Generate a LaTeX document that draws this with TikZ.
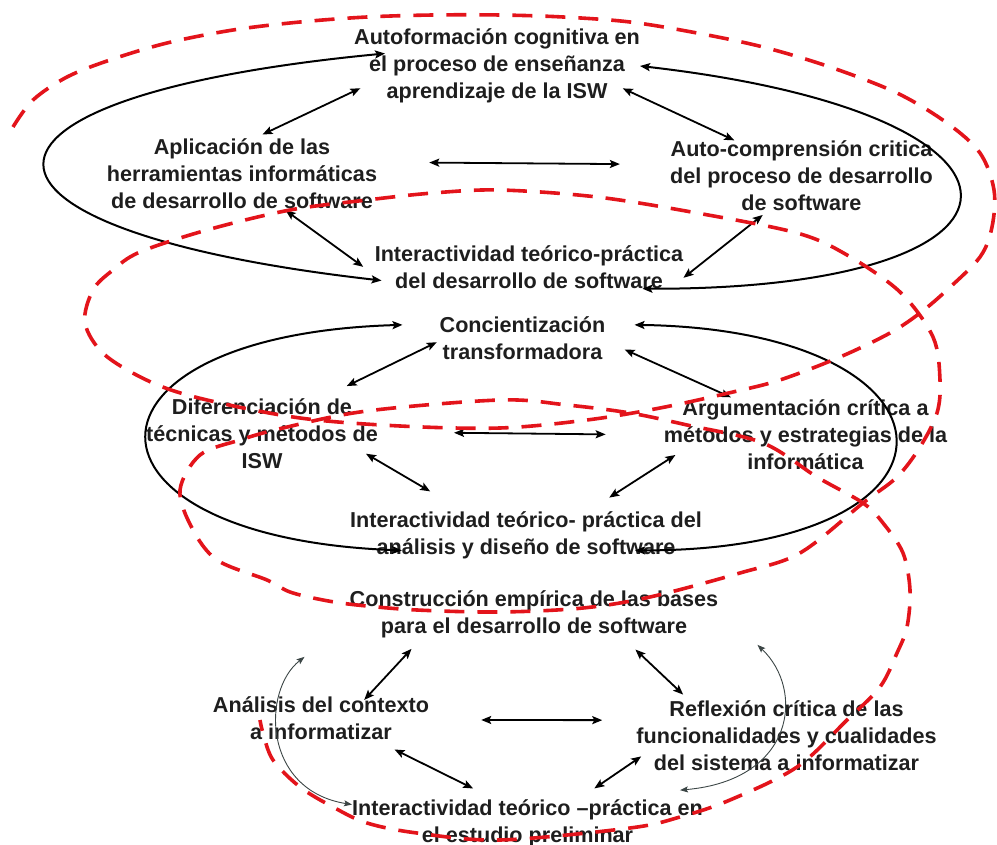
\documentclass[tikz,border=0pt]{standalone}
\usepackage{fontspec}
\setmainfont{Liberation Sans}
\usepackage{xcolor}
\usetikzlibrary{arrows.meta}
\definecolor{txtgray}{HTML}{1E1E1E}
\definecolor{spiralred}{HTML}{E3141B}
\definecolor{thingray}{HTML}{3C4646}

\begin{document}
\begin{tikzpicture}[
  x=1pt, y=-1pt,
  >={Stealth[length=10pt,width=8pt,inset=2pt]},
  concept/.style={align=center, inner sep=0pt, text=txtgray, font=\fontsize{21.6}{27}\selectfont\bfseries},
  link/.style={<->, line width=1.8pt},
  loopline/.style={<->, line width=2pt},
  thinloop/.style={{Stealth[length=8pt,width=6pt,inset=1.5pt]}-{Stealth[length=8pt,width=6pt,inset=1.5pt]}, line width=0.9pt, draw=thingray},
  spiral/.style={draw=spiralred, line width=3.6pt, dash pattern=on 20pt off 13pt}
]
\useasboundingbox (0,0) rectangle (997,845);

\node[concept] (autof) at (497,66) {Autoformación cognitiva en\\el proceso de enseñanza\\aprendizaje de la ISW};
\node[concept] (aplic) at (242,174) {Aplicación de las\\herramientas informáticas\\de desarrollo de software};
\node[concept] (autoc) at (801.5,176) {Auto-comprensión critica\\del proceso de desarrollo\\de software};
\node[concept] (interA) at (529,267) {Interactividad teórico-práctica\\del desarrollo de software};

\node[concept] (conc) at (522.5,338) {Concientización\\transformadora};
\node[concept] (difer) at (262,434) {Diferenciación de\\técnicas y métodos de\\ISW};
\node[concept] (argum) at (805.5,435) {Argumentación crítica a\\métodos y estrategias de la\\informática};
\node[concept] (interB) at (526,535) {Interactividad teórico- práctica del\\análisis y diseño de software};

\node[concept] (constr) at (534,614) {Construcción empírica de las bases\\para el desarrollo de software};
\node[concept] (anal) at (321,718) {Análisis del contexto\\a informatizar};
\node[concept] (reflex) at (786.5,736) {Reflexión crítica de las\\funcionalidades y cualidades\\del sistema a informatizar};
\node[concept] (interC) at (527.5,823) {Interactividad teórico –práctica en\\el estudio preliminar};

\draw[link, shorten <=-7pt, shorten >=10pt] (autof.190) -- (aplic.72);
\draw[link, shorten <=-19pt, shorten >=1pt] (autof.348) -- (autoc.152);
\draw[link, shorten <=52pt, shorten >=50pt] (aplic.5) -- (autoc.175);
\draw[link, shorten <=2pt, shorten >=14pt] (aplic.320) -- (interA.183);
\draw[link, shorten <=6pt] (autoc.226) -- (interA.356);
\draw[loopline] ([xshift=31pt]autof.175) .. controls (-70,97) and (-65,230) .. ([xshift=7pt]interA.185);
\draw[loopline] (autof.0) .. controls (1070,115) and (1060,290) .. ([xshift=-41pt]interA.352);

\draw[link, shorten <=3pt, shorten >=29pt] (conc.182) -- (difer.31);
\draw[link, shorten <=21pt, shorten >=6pt] (conc.358) -- (argum.153);
\draw[link, shorten <=76pt, shorten >=58pt] (difer.1) -- (argum.180);
\draw[link, shorten <=-14pt, shorten >=39pt] (difer.347) -- (interB.159);
\draw[link, shorten <=-14pt, shorten >=25pt] (argum.191) -- (interB.21);
\draw[loopline] ([xshift=-37pt]conc.171) .. controls (62,335) and (62,538) .. ([xshift=52pt]interB.185);
\draw[loopline] ([xshift=29pt]conc.9) .. controls (975,330) and (988,551) .. ([xshift=-67pt]interB.355);

\draw[link, shorten <=15pt, shorten >=-5pt] (constr.192) -- (anal.25);
\draw[link, shorten <=17pt, shorten >=9pt] (constr.345) -- (reflex.160);
\draw[link, shorten <=52pt, shorten >=34pt] (anal.359) -- (reflex.174);
\draw[link, shorten <=22pt, shorten >=24pt] (anal.338) -- (interC.144);
\draw[link, shorten <=-6pt, shorten >=19pt] (reflex.189) -- (interC.25);
\draw[thinloop] ([shift={(-45pt,-19pt)}]constr.south west) .. controls (262,690) and (262,790) .. (interC.174);
\draw[thinloop] ([shift={(39pt,-7pt)}]constr.south east) .. controls (805,690) and (795,780) .. ([shift={(-23pt,9pt)}]interC.north east);

\draw[spiral] plot[smooth, tension=0.55] coordinates {
  (13,127) (33,100) (67,77) (110,60) (167,43) (233,30) (300,22) (367,17) (433,15) (500,15)
  (563,17) (630,22) (697,33) (763,47) (830,67) (897,93) (947,123) (980,153) (994,190)
  (992,227) (980,257) (947,290) (920,313) (890,333) (840,357) (780,380) (733,392) (660,408)
  (587,420) (500,428) (400,426) (300,418) (207,400) (153,383) (105,355) (85,323) (93,290)
  (113,270) (140,252) (207,230) (290,210) (367,200) (433,193) (500,190) (597,197) (697,213)
  (797,233) (847,255) (900,292) (933,337) (940,380) (937,413) (920,447) (897,477) (863,503)
  (800,553) (740,573) (650,597) (583,608) (500,612) (417,610) (357,605) (323,600) (290,592)
  (267,580) (217,560) (192,528) (180,490) (200,455) (240,440) (283,428) (367,411) (500,400)
  (567,405) (630,413) (687,425) (763,443) (817,477) (863,503) (883,523) (903,553) (910,590)
  (907,627) (897,653) (880,687) (847,720) (797,767) (730,800) (680,817) (630,828) (500,840)
  (417,833) (367,823) (333,807) (300,787) (273,760) (263,733) (260,720)};
\end{tikzpicture}
\end{document}
